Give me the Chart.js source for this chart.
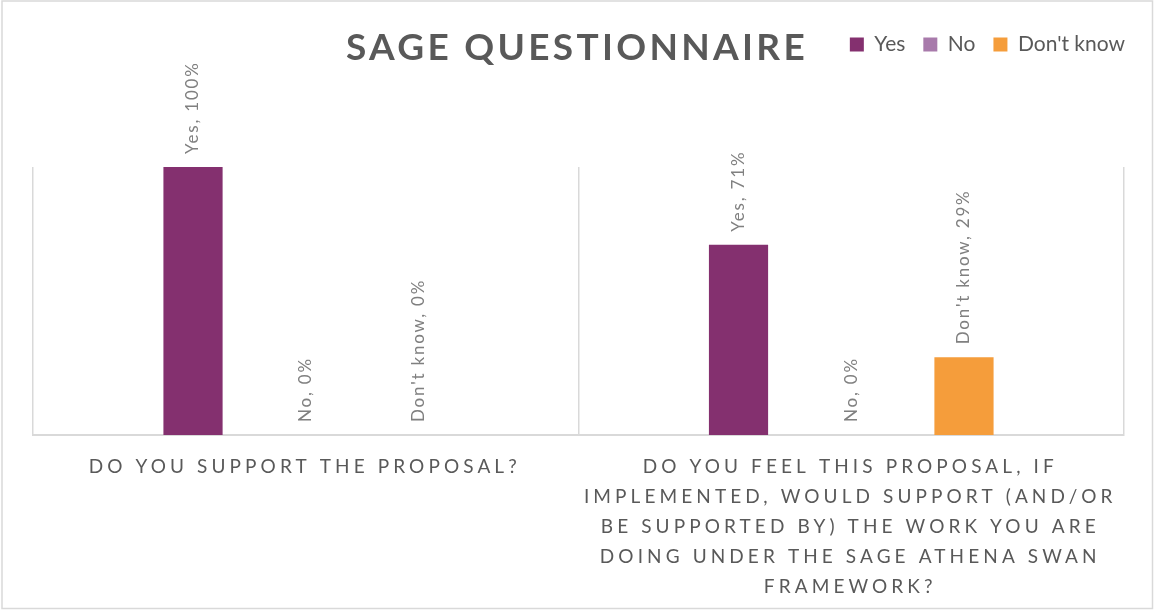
<!DOCTYPE html>
<html>
<head>
<meta charset="utf-8">
<script src="https://cdn.jsdelivr.net/npm/chart.js@4.4.1/dist/chart.umd.min.js"></script>
<style>
  html, body { margin: 0; padding: 0; background: #fff; }
  #wrap { position: relative; width: 1154px; height: 610px; }
</style>
</head>
<body>
<div id="wrap"><canvas id="myChart"></canvas></div>
<script>
// data
const questions = [
    ['DO YOU SUPPORT THE PROPOSAL?'],
    ['DO YOU FEEL THIS PROPOSAL, IF', 'IMPLEMENTED, WOULD SUPPORT (AND/OR', 'BE SUPPORTED BY) THE WORK YOU ARE', 'DOING UNDER THE SAGE ATHENA SWAN', 'FRAMEWORK?']
];
const seriesNames = ['Yes', 'No', "Don't know"];
const yesValues = [100, 71];
const noValues = [0, 0];
const dontKnowValues = [0, 29];
const seriesColors = ['#84306f', '#a87aab', '#f59d3b'];

const textGrey = '#595959';
const lineGrey = '#d9d9d9';

// outer frame
const framePlugin = {
    id: 'frame',
    beforeDraw(chart) {
        const ctx = chart.ctx;
        ctx.save();
        ctx.fillStyle = '#fff';
        ctx.fillRect(0, 0, chart.width, chart.height);
        ctx.strokeStyle = lineGrey;
        ctx.lineWidth = 1.5;
        ctx.strokeRect(2, 1, chart.width - 3.5, chart.height - 2.5);
        ctx.restore();
    }
};

// big spaced title (drawn by hand so it can sit on the legend row)
const titlePlugin = {
    id: 'bigTitle',
    afterDraw(chart) {
        const ctx = chart.ctx;
        ctx.save();
        ctx.font = 'bold 37px Lato';
        ctx.letterSpacing = '3.3px';
        ctx.fillStyle = textGrey;
        ctx.textAlign = 'center';
        ctx.textBaseline = 'alphabetic';
        ctx.fillText('SAGE QUESTIONNAIRE', chart.width / 2, 60);
        ctx.restore();
    }
};

// rotated "Series, value%" labels above each bar
const barLabels = {
    id: 'barLabels',
    afterDatasetsDraw(chart) {
        const ctx = chart.ctx;
        chart.data.datasets.forEach(function (ds, i) {
            const meta = chart.getDatasetMeta(i);
            meta.data.forEach(function (bar, j) {
                ctx.save();
                ctx.font = '17px Lato';
                ctx.letterSpacing = '1.8px';
                ctx.fillStyle = '#808080';
                ctx.textAlign = 'left';
                ctx.textBaseline = 'middle';
                ctx.translate(bar.x, bar.y - 13);
                ctx.rotate(-Math.PI / 2);
                ctx.fillText(ds.label + ', ' + ds.data[j] + '%', 0, 0);
                ctx.restore();
            });
        });
    }
};

// category names under the axis, spaced out like the original
const catLabels = {
    id: 'catLabels',
    afterDraw(chart) {
        const ctx = chart.ctx;
        const xs = chart.scales.x;
        ctx.save();
        ctx.font = '19px Lato';
        ctx.letterSpacing = '4.1px';
        ctx.fillStyle = textGrey;
        ctx.textAlign = 'center';
        ctx.textBaseline = 'middle';
        questions.forEach(function (lines, i) {
            const x = xs.getPixelForValue(i);
            lines.forEach(function (line, k) {
                ctx.fillText(line, x - 1, xs.top + 32 + k * 30);
            });
        });
        ctx.restore();
    }
};

// make legend box tall so plot starts lower
const tallLegend = {
    id: 'tallLegend',
    beforeInit(chart) {
        const origFit = chart.legend.fit;
        chart.legend.fit = function () {
            origFit.bind(chart.legend)();
            this.height = 151;
        };
    }
};

const ctx = document.getElementById('myChart');
const myChart = new Chart(ctx, {
    type: 'bar',
    data: {
        labels: questions,
        datasets: [
            { label: seriesNames[0], data: yesValues, backgroundColor: seriesColors[0] },
            { label: seriesNames[1], data: noValues, backgroundColor: seriesColors[1] },
            { label: seriesNames[2], data: dontKnowValues, backgroundColor: seriesColors[2] }
        ]
    },
    options: {
        responsive: true,
        maintainAspectRatio: false,
        animation: false,
        categoryPercentage: 0.62,
        barPercentage: 0.525,
        layout: { padding: { top: 16, left: 11, right: 11, bottom: 0 } },
        plugins: {
            title: { display: false },
            tooltip: { enabled: false },
            legend: {
                position: 'top',
                align: 'end',
                labels: {
                    boxWidth: 14,
                    boxHeight: 14,
                    padding: 18,
                    color: textGrey,
                    font: { family: 'Lato', size: 21 }
                }
            }
        },
        scales: {
            x: {
                ticks: { display: false },
                grid: { color: lineGrey, lineWidth: 1.5, drawTicks: false, offset: true },
                border: { color: lineGrey, width: 2 },
                afterFit(s) { s.height = 175; }
            },
            y: {
                display: false,
                min: 0,
                max: 100,
                afterFit(s) { s.width = 22; }
            },
            yRight: {
                display: false,
                position: 'right',
                afterFit(s) { s.width = 19; }
            }
        }
    },
    plugins: [framePlugin, tallLegend, barLabels, catLabels, titlePlugin]
});
</script>
</body>
</html>
